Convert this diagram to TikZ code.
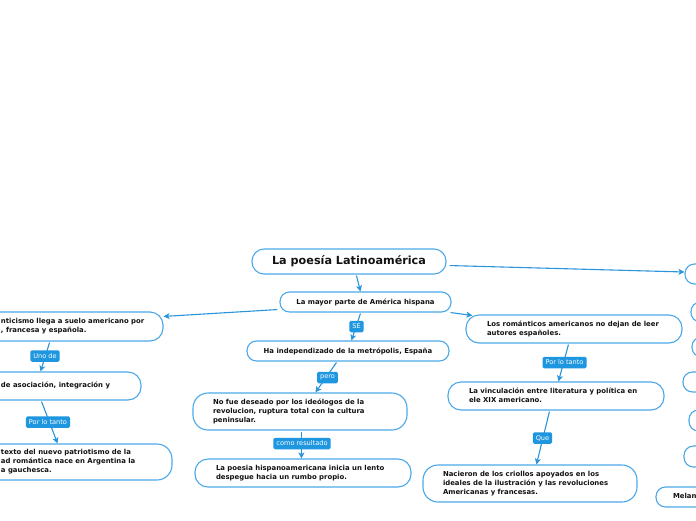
\documentclass[tikz,border=0pt]{standalone}
\usepackage{fontspec}
\setmainfont{DejaVu Sans}
\usetikzlibrary{arrows.meta,calc}
\definecolor{bcol}{RGB}{74,168,232}
\definecolor{ccol}{RGB}{43,149,219}
\definecolor{lcol}{RGB}{30,150,224}
\definecolor{tcol}{RGB}{18,18,18}
\newcommand\bxt[3]{\makebox[#1][l]{\hspace*{#2}\begin{tabular}{@{}l@{}}#3\end{tabular}}}
\begin{document}
\begin{tikzpicture}[x=1pt,y=-1pt,
  box/.style={draw=bcol, line width=1.1pt, rounded corners=12pt, fill=white,
    inner xsep=0pt, inner ysep=0pt, text=tcol,
    font=\fontsize{6.9}{8.8}\selectfont\bfseries},
  pill/.style={box, rounded corners=9.5pt},
  lab/.style={fill=lcol, text=white, rounded corners=1.5pt,
    font=\fontsize{6.6}{7}\selectfont, inner xsep=3pt, inner ysep=0pt,
    minimum height=11.5pt},
  conn/.style={draw=ccol, line width=1.1pt},
  arr/.style={conn, -{Stealth[length=6pt,width=6pt,inset=1.5pt]}}
]
\path[use as bounding box] (0,0) rectangle (696,520);
\clip (0,0) rectangle (696,520);
\fill[white] (0,0) rectangle (696,520);

% main nodes
\node[box, rounded corners=12pt, minimum width=194pt, minimum height=25pt,
  font=\fontsize{11.2}{13}\selectfont\bfseries] (root) at (349,261.5) {La poesía Latinoamérica};
\node[pill, minimum width=171pt, minimum height=20pt] (a) at (365.5,302) {La mayor parte de América hispana};
\node[pill, minimum width=202pt, minimum height=20pt] (b) at (348,351) {Ha independizado de la metrópolis, España};
\node[box, rounded corners=15pt, minimum height=37pt] (c) at (300,411.5)
  {\bxt{214pt}{20pt}{No fue deseado por los ideólogos de la\\revolucion, ruptura total con la cultura\\peninsular.}};
\node[box, rounded corners=13pt, minimum height=28pt] (d) at (303,473)
  {\bxt{216pt}{21pt}{La poesia hispanoamericana inicia un lento\\despegue hacia un rumbo propio.}};
\node[box, rounded corners=13pt, minimum height=28pt] (e) at (574,329)
  {\bxt{216pt}{21pt}{Los románticos americanos no dejan de leer\\autores españoles.}};
\node[box, rounded corners=13pt, minimum height=28pt] (f) at (556,396)
  {\bxt{216pt}{21pt}{La vinculación entre literatura y política en\\ele XIX americano.}};
\node[box, rounded corners=15pt, minimum height=37pt] (g) at (530,483.5)
  {\bxt{214pt}{20pt}{Nacieron de los criollos apoyados en los\\ideales de la ilustración y las revoluciones\\Americanas y francesas.}};

% left nodes (cut off)
\node[box, rounded corners=13pt, minimum height=29pt] (l1) at (31.5,326.5)
  {\bxt{263pt}{101pt}{nticismo llega a suelo americano por\\, francesa y española.}};
\node[box, rounded corners=13pt, minimum height=28pt] (l2) at (20.5,386)
  {\bxt{241pt}{101pt}{de asociación, integración y}};
\node[box, rounded corners=15pt, minimum height=36pt] (l3) at (36,462)
  {\bxt{272pt}{101pt}{texto del nuevo patriotismo de la\\ad romántica nace en Argentina la\\a gauchesca.}};

% right nodes (cut off)
\node[pill, minimum width=100pt, minimum height=20pt] (r1) at (735,274) {};
\node[pill, minimum width=100pt, minimum height=20pt] (r2) at (741,312) {};
\node[pill, minimum width=100pt, minimum height=20pt] (r3) at (742,347) {};
\node[pill, minimum width=100pt, minimum height=20pt] (r4) at (733,382) {};
\node[pill, minimum width=100pt, minimum height=21pt] (r5) at (739,420.5) {};
\node[pill, minimum width=100pt, minimum height=21pt] (r6) at (734,456.5) {};
\node[pill, minimum height=20pt] (r7) at (706,497) {\bxt{100pt}{17pt}{Melan}};

% connectors
\draw[arr] ($(root.south west)+(105,1)$) -- ($(a.north west)+(81,0)$);
\draw[arr] ($(root.south east)+(3,-9)$) -- ($(r1.west)+(0,-2)$);
\draw[arr] ($(a.south west)+(-2,-3)$) -- ($(l1.north east)+(0,5)$);
\draw[arr] ($(a.south east)+(-1,0)$) -- ($(e.north west)+(7,1)$);
\draw[arr] ($(a.south west)+(81,1)$) -- ($(b.north west)+(105,0)$);
\draw[arr] ($(b.south west)+(90,1)$) -- ($(c.north west)+(123,0)$);
\draw[arr] ($(c.south west)+(109,1)$) -- ($(d.north west)+(107,0)$);
\draw[arr] ($(e.south west)+(103,1)$) -- ($(f.north west)+(111,0)$);
\draw[arr] ($(f.south west)+(102,1)$) -- ($(g.north west)+(114,0)$);
\draw[arr] ($(l1.south east)+(-114,1)$) -- ($(l2.north east)+(-101,0)$);
\draw[arr] ($(l2.south east)+(-100,1)$) -- ($(l3.north east)+(-115,0)$);

% connector labels
\node[lab] (lse) at (356.5,326.5) {SE};
\node[lab] (lpero) at (327.5,377.5) {pero};
\node[lab] (lcomo) at (302,443.5) {como resultado};
\node[lab] (lplt) at (564.5,362.5) {Por lo tanto};
\node[lab] (lque) at (542.5,438) {Que};
\node[lab] (luno) at (45,356) {Uno de};
\node[lab] (lpl) at (48,422) {Por lo tanto};
\end{tikzpicture}
\end{document}
